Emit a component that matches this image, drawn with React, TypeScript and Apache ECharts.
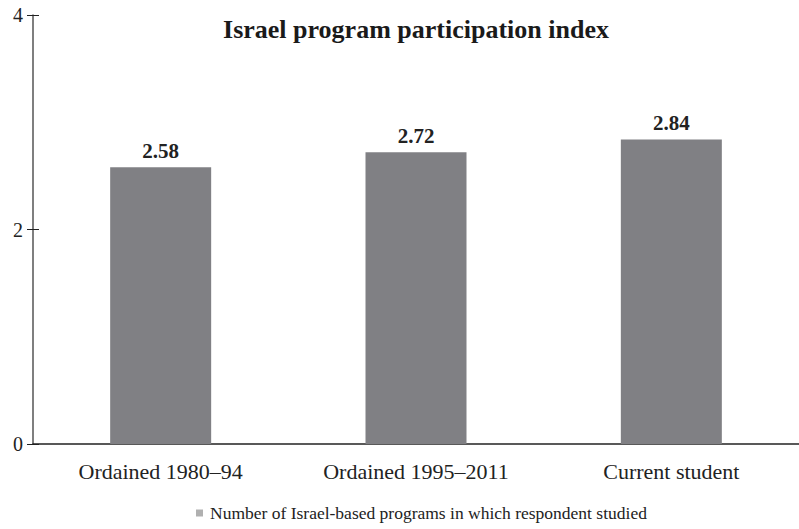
import React, { useEffect, useRef } from "react";
import * as echarts from "echarts";

const categories = ["Ordained 1980–94", "Ordained 1995–2011", "Current student"];
const values = [2.58, 2.72, 2.84];
const seriesName = "Number of Israel-based programs in which respondent studied";
const titleText = "Israel program participation index";

const FONT = "'Liberation Serif', 'DejaVu Serif', serif";

export default function App() {
  const ref = useRef<HTMLDivElement>(null);
  useEffect(() => {
    if (!ref.current) return;
    const chart = echarts.init(ref.current, null, { renderer: "svg" });
    chart.setOption({
      animation: false,
      backgroundColor: "#ffffff",
      title: {
        text: titleText,
        left: 411,
        top: 11,
        textAlign: "center",
        textStyle: { fontFamily: FONT, fontWeight: "bold", fontSize: 26, color: "#1a1a1a" },
      },
      legend: {
        data: [seriesName],
        left: 196,
        top: 503,
        padding: 0,
        icon: "rect",
        itemWidth: 7,
        itemHeight: 7,
        itemGap: 4,
        textStyle: { fontFamily: FONT, fontSize: 17.5, lineHeight: 20, color: "#222", padding: [0, 0, 0, 2] },
        itemStyle: { color: "#b0b0b0" },
      },
      grid: { left: 33, right: -11, top: 15, bottom: 85, containLabel: false },
      xAxis: {
        type: "category",
        data: categories,
        axisLine: { show: true, lineStyle: { color: "#222", width: 1.5 } },
        axisTick: { show: false },
        axisLabel: { fontFamily: FONT, fontSize: 22, color: "#222", margin: 16 },
      },
      yAxis: [
        {
          type: "value",
          min: 0,
          max: 4,
          interval: 2,
          splitLine: { show: false },
          axisLine: { show: true, lineStyle: { color: "#555", width: 1.5 } },
          axisTick: { show: true, length: 6, lineStyle: { color: "#222" } },
          axisLabel: { fontFamily: FONT, fontSize: 20, color: "#222", margin: 10 },
        },
        {
          type: "value",
          min: 0,
          max: 4,
          interval: 2,
          position: "left",
          splitLine: { show: false },
          axisLine: { show: false },
          axisTick: { show: true, inside: true, length: 6, lineStyle: { color: "#222" } },
          axisLabel: { show: false },
        },
      ],
      series: [
        {
          name: seriesName,
          type: "bar",
          data: values,
          barWidth: 101,
          yAxisIndex: 0,
          itemStyle: { color: "#808084" },
          label: {
            show: true,
            position: "top",
            distance: 6,
            formatter: (p: any) => p.value.toFixed(2),
            fontFamily: FONT,
            fontWeight: "bold",
            fontSize: 21,
            color: "#222",
          },
        },
      ],
    });
    return () => chart.dispose();
  }, []);
  return (
    <div
      ref={ref}
      style={{ position: "fixed", left: 0, top: 0, width: 799, height: 529, background: "#fff" }}
    />
  );
}
